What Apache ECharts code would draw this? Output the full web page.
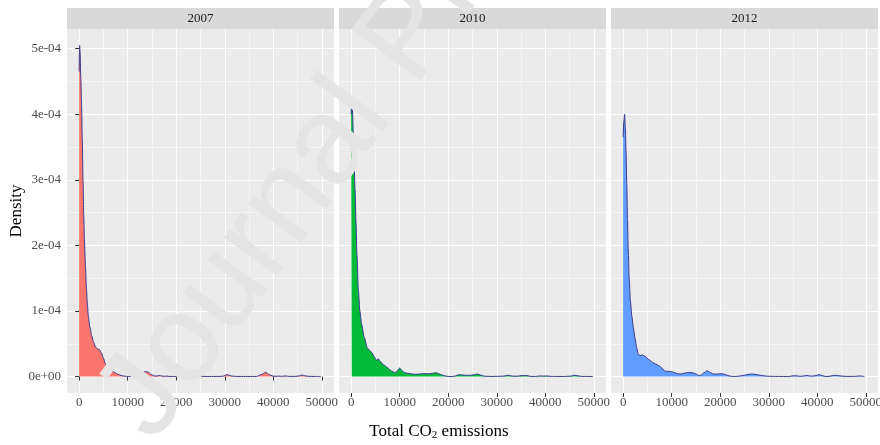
<!DOCTYPE html>
<html><head><meta charset="utf-8">
<script src="https://cdn.jsdelivr.net/npm/echarts@6/dist/echarts.min.js"></script>
<style>html,body{margin:0;padding:0;background:#fff}#c{width:880px;height:445px}</style>
</head><body><div id="c"></div>
<script>
// ---- data ----
const years = ['2007', '2010', '2012'];
const fills = ['#F8766D', '#00BA38', '#619CFF'];
const xTicks = [0, 10000, 20000, 30000, 40000, 50000];
const yTicks = [0, 1e-4, 2e-4, 3e-4, 4e-4, 5e-4];

const emis2007 = [0,100,200,350,500,650,800,950,1100,1300,1500,1700,1900,2200,2600,3000,3400,3800,4200,4600,5000,5400,5800,6300,6800,7400,8000,8600,9200,9800,10500,11200,12000,12800,13500,14200,14800,15400,16000,16500,17000,17500,18000,18700,19500,20500,21500,22500,23300,24000,24600,25300,26500,28000,29500,30500,31300,32000,33500,35000,36500,37500,38400,39200,39800,40500,41100,41700,42500,43300,44500,45400,45900,46500,47300,48500,49800];
const dens2007 = [4.65e-4,5.05e-4,4.95e-4,4.55e-4,4.15e-4,3.6e-4,3.0e-4,2.45e-4,2.05e-4,1.7e-4,1.35e-4,1.1e-4,0.92e-4,0.76e-4,0.62e-4,0.52e-4,0.45e-4,0.42e-4,0.41e-4,0.36e-4,0.28e-4,0.2e-4,0.15e-4,0.11e-4,0.085e-4,0.06e-4,0.035e-4,0.02e-4,0.008e-4,0.004e-4,0.003e-4,0.004e-4,0.01e-4,0.04e-4,0.075e-4,0.07e-4,0.035e-4,0.012e-4,0.008e-4,0.018e-4,0.01e-4,0.004e-4,0.008e-4,0.002e-4,0.003e-4,0.002e-4,0.003e-4,0.006e-4,0.018e-4,0.012e-4,0.008e-4,0.004e-4,0.002e-4,0.002e-4,0.004e-4,0.03e-4,0.01e-4,0.004e-4,0.002e-4,0.002e-4,0.002e-4,0.03e-4,0.065e-4,0.03e-4,0.01e-4,0.004e-4,0.008e-4,0.004e-4,0.01e-4,0.003e-4,0.003e-4,0.012e-4,0.025e-4,0.012e-4,0.004e-4,0.002e-4,0.001e-4];

const emis2010 = [0,130,280,450,600,800,1000,1200,1500,1800,2150,2700,3300,3800,4200,4800,5200,5600,6000,6500,6900,7400,7900,8400,8900,9400,10000,10500,11000,11700,12500,13300,14000,15000,16000,16800,17400,18000,18700,19400,20000,20800,21500,22200,22900,23600,24400,25200,26000,26600,27200,28000,29000,30000,31200,32400,33200,34200,35200,36200,37000,38000,38800,39600,40300,41200,42500,44000,45300,46000,46700,47500,48700,49800];
const dens2010 = [4.0e-4,4.22e-4,4.05e-4,3.7e-4,3.3e-4,2.85e-4,2.35e-4,1.85e-4,1.3e-4,1.0e-4,0.8e-4,0.6e-4,0.44e-4,0.4e-4,0.37e-4,0.3e-4,0.25e-4,0.27e-4,0.23e-4,0.19e-4,0.17e-4,0.14e-4,0.11e-4,0.08e-4,0.06e-4,0.075e-4,0.13e-4,0.09e-4,0.06e-4,0.05e-4,0.04e-4,0.035e-4,0.04e-4,0.045e-4,0.042e-4,0.05e-4,0.06e-4,0.045e-4,0.025e-4,0.01e-4,0.002e-4,0.001e-4,0.01e-4,0.03e-4,0.025e-4,0.02e-4,0.02e-4,0.025e-4,0.04e-4,0.025e-4,0.01e-4,0.004e-4,0.002e-4,0.004e-4,0.006e-4,0.02e-4,0.008e-4,0.006e-4,0.015e-4,0.015e-4,0.003e-4,0.002e-4,0.01e-4,0.008e-4,0.01e-4,0.003e-4,0.002e-4,0.002e-4,0.008e-4,0.02e-4,0.012e-4,0.003e-4,0.002e-4,0.001e-4];

const emis2012 = [0,150,300,450,600,750,900,1050,1250,1500,1800,2100,2450,2800,3100,3500,4000,4500,5000,5500,6000,6500,7000,7500,8000,8500,9000,9500,10000,10600,11200,11800,12500,13300,14200,14900,15500,16000,16700,17300,17900,18600,19300,20200,20900,21600,22300,23100,23900,24600,25500,26500,27400,28300,29200,30000,31000,32500,33500,34200,35000,35600,36600,37300,37900,38600,39500,40400,41000,41800,42600,43500,44300,45000,46000,47500,48800,49700];
const dens2012 = [3.65e-4,3.9e-4,4.0e-4,3.8e-4,3.45e-4,2.95e-4,2.4e-4,1.95e-4,1.5e-4,1.15e-4,0.92e-4,0.75e-4,0.58e-4,0.44e-4,0.34e-4,0.32e-4,0.33e-4,0.31e-4,0.28e-4,0.25e-4,0.22e-4,0.2e-4,0.18e-4,0.16e-4,0.13e-4,0.09e-4,0.08e-4,0.08e-4,0.075e-4,0.06e-4,0.045e-4,0.04e-4,0.05e-4,0.062e-4,0.06e-4,0.045e-4,0.02e-4,0.02e-4,0.06e-4,0.09e-4,0.065e-4,0.04e-4,0.038e-4,0.045e-4,0.035e-4,0.015e-4,0.004e-4,0.001e-4,0.008e-4,0.016e-4,0.03e-4,0.04e-4,0.032e-4,0.02e-4,0.01e-4,0.005e-4,0.003e-4,0.002e-4,0.001e-4,0.002e-4,0.012e-4,0.012e-4,0.004e-4,0.012e-4,0.018e-4,0.008e-4,0.012e-4,0.03e-4,0.015e-4,0.001e-4,0.006e-4,0.02e-4,0.015e-4,0.008e-4,0.003e-4,0.003e-4,0.01e-4,0.001e-4];

const emisList = [emis2007, emis2010, emis2012];
const densList = [dens2007, dens2010, dens2012];

// ---- layout ----
const FONT = 'Liberation Serif';
const gridLefts = [67, 339, 611];
const PW = 267, PT = 29, PH = 364;
const XMIN = -2500, XMAX = 52500;
const YMIN = -2.5e-5, YMAX = 5.3e-4;
const gridColors = ['rgba(0,0,0,0)', '#FFFFFF', 'rgba(0,0,0,0)', '#F5F5F5'];

const grids = [], xAxes = [], yAxes = [], series = [], graphics = [];
years.forEach((yr, i) => {
  grids.push({ left: gridLefts[i], top: PT, width: PW, height: PH, backgroundColor: '#EBEBEB', show: true, borderWidth: 0, outerBoundsMode: 'none' });
  xAxes.push({
    gridIndex: i, type: 'value', min: XMIN, max: XMAX, interval: 2500, position: 'bottom',
    axisLine: { show: false }, axisTick: { show: false }, axisLabel: { show: false },
    splitLine: { show: true, showMaxLine: false, lineStyle: { color: gridColors, width: 1 } }
  });
  xAxes.push({
    gridIndex: i, type: 'value', min: XMIN, max: XMAX, position: 'bottom',
    axisLine: { show: false }, splitLine: { show: false },
    axisTick: { show: true, customValues: xTicks, length: 4, lineStyle: { color: '#333333' } },
    axisLabel: { customValues: xTicks, margin: 3, color: '#4D4D4D', fontSize: 13, fontFamily: FONT,
      formatter: v => String(v) }
  });
  yAxes.push({
    gridIndex: i, type: 'value', min: YMIN, max: YMAX, interval: 2.5e-5, position: 'left',
    axisLine: { show: false }, axisTick: { show: false }, axisLabel: { show: false },
    splitLine: { show: true, showMaxLine: false, lineStyle: { color: gridColors, width: 1 } }
  });
  series.push({
    type: 'line', xAxisIndex: 2 * i, yAxisIndex: i,
    data: emisList[i].map((x, k) => [x, densList[i][k]]),
    showSymbol: false, symbol: 'none', smooth: 0.25, smoothMonotone: 'x',
    lineStyle: { color: '#3A3A8C', width: 1 },
    itemStyle: { color: fills[i] },
    areaStyle: { color: fills[i], opacity: 1 },
    silent: true
  });
  graphics.push({ type: 'rect', shape: { x: gridLefts[i], y: 8, width: PW, height: 21 }, style: { fill: '#D9D9D9' }, z: 10 });
  graphics.push({ type: 'text', x: gridLefts[i] + PW / 2, y: 19, style: { text: yr, fill: '#1A1A1A', font: '13px "' + FONT + '"', align: 'center', verticalAlign: 'middle' }, z: 11 });
});
yAxes.push({
  gridIndex: 0, type: 'value', min: YMIN, max: YMAX, position: 'left', offset: 0,
  axisLine: { show: false }, splitLine: { show: false },
  axisTick: { show: true, customValues: yTicks, length: 4, lineStyle: { color: '#333333' } },
  axisLabel: { customValues: yTicks, margin: 6, color: '#4D4D4D', fontSize: 13, fontFamily: FONT,
    formatter: v => { const n = Math.round(v * 1e4); return n === 0 ? '0e+00' : n + 'e-04'; } }
});

graphics.push({ type: 'text', x: 17, y: 211, rotation: Math.PI / 2,
  style: { text: 'Density', fill: '#000', font: '17px "' + FONT + '"', align: 'center', verticalAlign: 'middle' }, z: 11 });
graphics.push({ type: 'text', x: 439, y: 432,
  style: { text: 'Total CO{s|2} emissions', fill: '#000', font: '17px "' + FONT + '"', align: 'center', verticalAlign: 'middle',
    rich: { s: { fontSize: 11, fontFamily: FONT, verticalAlign: 'bottom', padding: [6, 0, 0, 0], fill: '#000' } } }, z: 11 });
// watermark
graphics.push({ type: 'text', x: 126, y: 424, rotation: 53.8 * Math.PI / 180,
  style: { text: 'Journal Pre-proof', fill: '#E4E4E4', font: '124px "Liberation Sans"', align: 'left', verticalAlign: 'middle' }, z: 200, silent: true });

const chart = echarts.init(document.getElementById('c'), null, { renderer: 'canvas' });
chart.setOption({
  animation: false,
  backgroundColor: '#FFFFFF',
  textStyle: { fontFamily: FONT },
  grid: grids, xAxis: xAxes, yAxis: yAxes, series: series, graphic: graphics
});
</script></body></html>
